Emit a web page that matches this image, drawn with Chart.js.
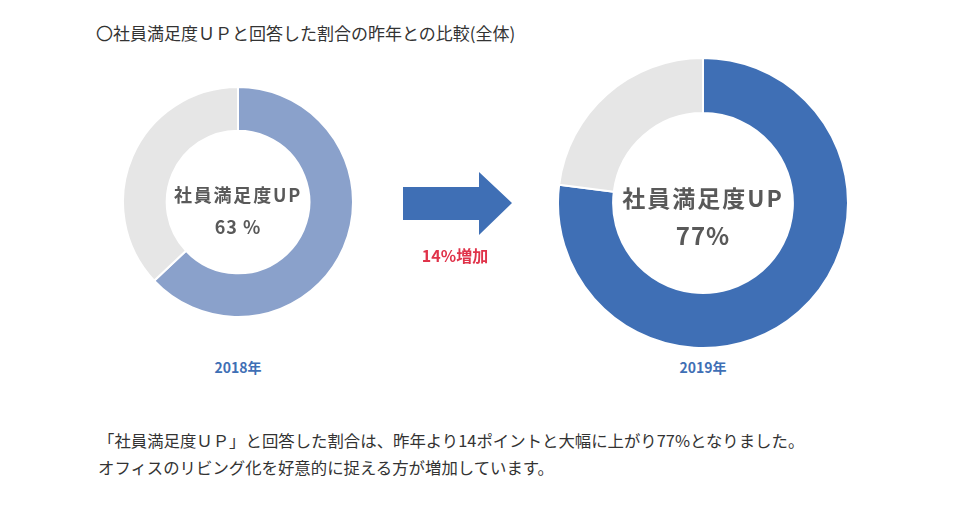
<!DOCTYPE html>
<html lang="ja">
<head>
<meta charset="utf-8">
<title>社員満足度UP 比較</title>
<script src="https://cdn.jsdelivr.net/npm/chart.js@4.4.1/dist/chart.umd.min.js"></script>
<style>
  html, body { margin: 0; padding: 0; background: #fff; }
  body { width: 968px; height: 505px; position: relative; overflow: hidden;
         font-family: "Noto Sans CJK JP", "Noto Sans", sans-serif; color: #333; }
  .abs { position: absolute; }
  #title { left: 96px; top: 20px; font-size: 17px; line-height: 26px; white-space: nowrap; }
  .center { text-align: center; color: #595959; font-weight: bold; white-space: nowrap; }
  .year { color: #3f6fb5; font-weight: bold; font-size: 14px; text-align: center; width: 120px; }
  #diff { left: 395px; top: 243px; width: 120px; text-align: center; color: #e0334a;
          font-weight: bold; font-size: 16px; }
  #note { left: 98px; top: 427px; font-size: 16.4px; line-height: 27px; white-space: nowrap; }
</style>
</head>
<body>
<div id="title" class="abs">〇社員満足度ＵＰと回答した割合の昨年との比較(全体)</div>

<canvas id="chart2018" class="abs" width="232" height="232" style="left:122px;top:86px"></canvas>
<canvas id="chart2019" class="abs" width="292" height="292" style="left:557px;top:57px"></canvas>

<div id="c2018" class="abs center" style="left:138px;top:180px;width:200px">
  <div style="font-size:18px;line-height:28px;letter-spacing:1.8px">社員満足度UP</div>
  <div style="font-size:18px;line-height:36px;letter-spacing:1px">63<span style="margin-left:5px">%</span></div>
</div>
<div id="c2019" class="abs center" style="left:583px;top:179px;width:240px">
  <div style="font-size:23px;line-height:36px;letter-spacing:2px">社員満足度UP</div>
  <div style="font-size:24px;line-height:40px;letter-spacing:1px">77%</div>
</div>

<svg class="abs" style="left:400px;top:168px" width="116" height="70">
  <polygon points="3,19 79,19 79,4 112,35 79,67 79,52 3,52" fill="#3f6fb5"/>
</svg>
<div id="diff" class="abs">14%増加</div>

<div class="abs year" style="left:178px;top:357px">2018年</div>
<div class="abs year" style="left:643px;top:357px">2019年</div>

<div id="note" class="abs">「社員満足度ＵＰ」と回答した割合は、昨年より14ポイントと大幅に上がり77%となりました。<br>オフィスのリビング化を好意的に捉える方が増加しています。</div>

<script>
  // データ
  const years = ['2018年', '2019年'];
  const segmentLabels = ['社員満足度UP', 'その他'];
  const upRates = [63, 77];
  const otherRates = [37, 23];
  const upColors = ['#8aa1cb', '#3f6fb5'];
  const otherColor = '#e6e6e6';

  // ドーナツグラフを作る
  function createDoughnut(canvasId, idx) {
    const ctx = document.getElementById(canvasId);
    return new Chart(ctx, {
      type: 'doughnut',
      data: {
        labels: segmentLabels,
        datasets: [
          {
            label: years[idx],
            data: [upRates[idx], otherRates[idx]],
            backgroundColor: [upColors[idx], otherColor],
            borderColor: '#ffffff',
            borderWidth: 2
          }
        ]
      },
      options: {
        responsive: false,
        animation: false,
        cutout: '62%',
        layout: { padding: 0 },
        plugins: {
          legend: { display: false },
          tooltip: { enabled: false }
        }
      }
    });
  }

  createDoughnut('chart2018', 0);
  createDoughnut('chart2019', 1);
</script>
</body>
</html>
